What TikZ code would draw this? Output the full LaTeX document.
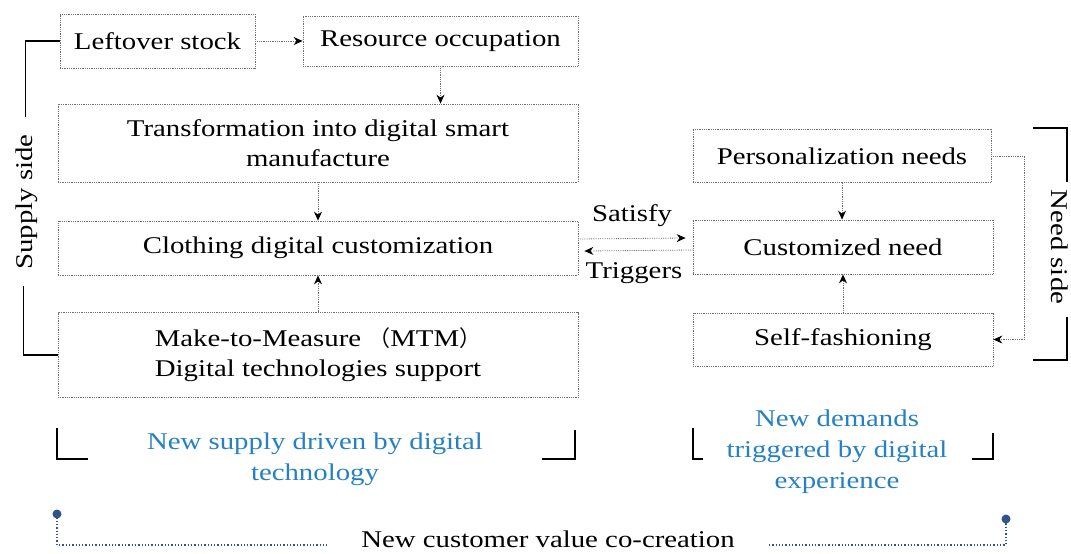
\documentclass[tikz,border=0pt]{standalone}
\usepackage{fontspec}
\setmainfont{Liberation Serif}[FakeStretch=1.2]
\newfontfamily\cjkpar{Noto Sans CJK SC}
\usetikzlibrary{arrows.meta,calc}
\definecolor{bluetxt}{RGB}{38,128,196}
\definecolor{navydot}{RGB}{47,85,140}
\definecolor{boxline}{RGB}{110,110,110}
\begin{document}
\begin{tikzpicture}[x=1pt,y=-1pt,
 box/.style={draw=boxline, densely dotted, line width=0.8pt, inner sep=0pt, align=center, font=\fontsize{24}{30}\selectfont},
 arr/.style={draw=boxline, densely dotted, line width=0.8pt, -{Stealth[length=9pt,width=8pt,inset=3pt,color=black,fill=black]}},
 brk/.style={line width=1.7pt, black},
 lbl/.style={font=\fontsize{24}{28}\selectfont, inner sep=1pt},
 blu/.style={text=bluetxt, align=center, font=\fontsize{24}{31}\selectfont},
 dotl/.style={navydot, dotted, line width=1.3pt},
]
\useasboundingbox (0,0) rectangle (1071,554);
% left column
\node[box, minimum width=195, minimum height=54] (left) at (157.5,41) {Leftover stock};
\node[box, minimum width=275, minimum height=50] (res) at (440.5,41) {Resource occupation};
\node[box, minimum width=520, minimum height=78] (trans) at (318,143) {Transformation into digital smart\\manufacture};
\node[box, minimum width=520, minimum height=54] (cloth) at (318,248) {Clothing digital customization};
\node[box, minimum width=520, minimum height=85] (mtm) at (318,355) {Make-to-Measure {\cjkpar\fontsize{22}{28}\selectfont （}MTM{\cjkpar\fontsize{22}{28}\selectfont ）}\\Digital technologies support};
% right column
\node[box, minimum width=298, minimum height=53] (pers) at (842,156) {Personalization needs};
\node[box, minimum width=300, minimum height=54] (cust) at (843,247) {Customized need};
\node[box, minimum width=300, minimum height=53] (self) at (843,339.5) {Self-fashioning};
% arrows
\draw[arr] (left) -- (res);
\draw[arr] (res.south) -- (res.south |- trans.north);
\draw[arr] (trans) -- (cloth);
\draw[arr] (mtm) -- (cloth);
\draw[arr] (pers.south) -- (pers.south |- cust.north);
\draw[arr] (self) -- (cust);
\draw[arr] ([yshift=9pt]cloth.east) -- ([yshift=9pt,xshift=-7pt]cust.west);
\draw[arr] ([yshift=-3pt]cust.west) -- ([yshift=-3pt,xshift=6pt]cloth.east);
\draw[arr] (pers.east) -- ++(33,0) |- (self.east);
\node[lbl] (satisfy) at (632,216) {Satisfy};
\node[lbl] (triggers) at (634,273) {Triggers};
% supply side bracket
\draw[brk] (left.west) -- ++(-34,0) -- ++(0,76);
\node[lbl, rotate=90] (supply) at (27,202) {Supply side};
\draw[brk] (mtm.west) -- ++(-34,0) -- ++(0,-69);
% need side bracket
\draw[brk] (1033,128) -- (1067,128) -- (1067,182);
\node[lbl, rotate=-90] (need) at (1060,247) {Need side};
\draw[brk] (1067,317) -- (1067,360) -- (1033,360);
% bottom groups
\draw[brk] (57,428) -- (57,459) -- (88,459);
\draw[brk] (542,459) -- (575,459) -- (575,430);
\node[blu] (supplytxt) at (315,459) {New supply driven by digital\\technology};
\draw[brk] (693,428) -- (693,459) -- (703,459);
\draw[brk] (972,459) -- (993,459) -- (993,433);
\node[blu] (demandtxt) at (837,452) {New demands\\triggered by digital\\experience};
% value co-creation
\coordinate (d1) at (57,514);
\coordinate (d2) at (1006,519);
\node[lbl, anchor=base, inner sep=0pt] (value) at (548,547) {New customer value co-creation};
\draw[dotl] (d1) -- (d1 |- 0,545) -- ([xshift=-34pt]value.west |- 0,545);
\draw[dotl] ([xshift=34pt]value.east |- 0,545) -- (d2 |- 0,545) -- (d2);
\fill[navydot] (d1) circle (4.5);
\fill[navydot] (d2) circle (4.5);
\end{tikzpicture}
\end{document}
